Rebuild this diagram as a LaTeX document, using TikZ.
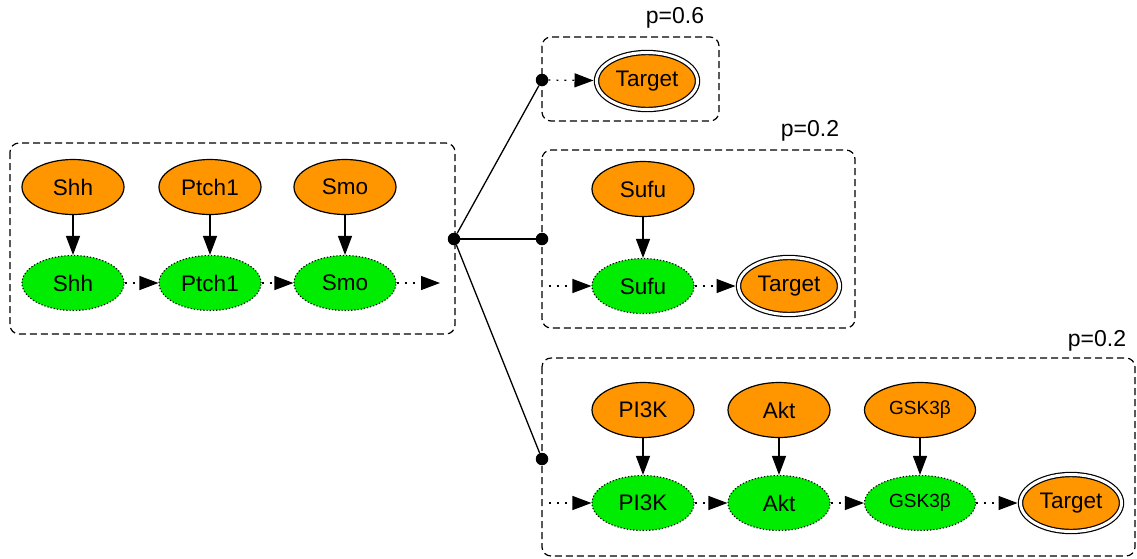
\documentclass[tikz,border=0pt]{standalone}
\usepackage{fontspec}
\setmainfont{Liberation Sans}
\usetikzlibrary{shapes.geometric,arrows.meta}
\definecolor{gorange}{RGB}{255,150,0}
\definecolor{ggreen}{RGB}{0,236,0}
\tikzset{
  gene/.style={ellipse, draw, line width=1.2pt, fill=gorange, minimum width=102pt,
    minimum height=55pt, inner sep=0pt, font=\fontsize{22.5}{25}\selectfont},
  act/.style={ellipse, draw, line width=1.1pt, dash pattern=on 1.2pt off 2pt, fill=ggreen,
    minimum width=102pt, minimum height=55pt, inner sep=0pt, font=\fontsize{22.5}{25}\selectfont},
  target/.style={ellipse, draw, line width=1.2pt, double, double distance=3pt, fill=gorange,
    minimum width=101pt, minimum height=57pt, inner sep=0pt, outer sep=3pt,
    font=\fontsize{22.5}{25}\selectfont},
  small/.style={font=\fontsize{19}{21}\selectfont, minimum width=111pt},
  junction/.style={circle, fill=black, inner sep=0pt, minimum size=12.5pt},
  group/.style={draw, line width=1.2pt, dash pattern=on 7pt off 4pt, rounded corners=9pt},
  link/.style={-{Triangle[length=19pt,width=14pt]}, line width=1.2pt},
  flow/.style={link, dash pattern=on 2pt off 6pt},
  branch/.style={line width=1.3pt},
  prob/.style={font=\fontsize{23}{25}\selectfont, inner sep=0pt}
}
\begin{document}
\begin{tikzpicture}[x=1pt, y=-1pt]
\useasboundingbox (0,0) rectangle (1137,558);

% Hedgehog pathway
\draw[group] (10,143) rectangle (455,334);
\node[gene] (shh)  at (73,187)  {Shh};
\node[gene] (ptc)  at (210,187) {Ptch1};
\node[gene] (smo)  at (345,187) {Smo};
\node[act]  (shhA) at (73,283)  {Shh};
\node[act]  (ptcA) at (210,283) {Ptch1};
\node[act]  (smoA) at (345,283) {Smo};
\coordinate (out0) at (440,283);
\draw[link] (shh) -- (shhA);
\draw[link] (ptc) -- (ptcA);
\draw[link] (smo) -- (smoA);
\draw[flow] (shhA) -- (ptcA);
\draw[flow] (ptcA) -- (smoA);
\draw[flow] (smoA) -- (out0);

% branching point
\node[junction] (hub) at (454,239) {};
\node[junction] (j1) at (542,80) {};
\node[junction] (j2) at (542,239) {};
\node[junction] (j3) at (542,459) {};
\draw[branch] (hub) -- (j1);
\draw[branch] (hub) -- (j2);
\draw[branch] (hub) -- (j3);

% branch 1
\draw[group] (542,37) rectangle (719,121);
\node[prob] (p1) at (675,18) {p=0.6};
\node[target] (t1) at (647,81) {Target};
\draw[flow] (j1) -- (t1);

% branch 2
\draw[group] (542,150) rectangle (855,328);
\node[prob] (p2) at (810,131) {p=0.2};
\node[gene] (sufu)  at (643,189) {Sufu};
\node[act]  (sufuA) at (643,286) {Sufu};
\node[target] (t2) at (789,286) {Target};
\coordinate (in2) at (549,286);
\draw[link] (sufu) -- (sufuA);
\draw[flow] (in2) -- (sufuA);
\draw[flow] (sufuA) -- (t2);

% branch 3
\draw[group] (542,358) rectangle (1135,556);
\node[prob] (p3) at (1097,341) {p=0.2};
\node[gene] (pik)  at (643,410) {PI3K};
\node[gene] (akt)  at (779,410) {Akt};
\node[gene, small] (gsk) at (920,410) {GSK3β};
\node[act]  (pikA) at (643,503) {PI3K};
\node[act]  (aktA) at (779,503) {Akt};
\node[act, small] (gskA) at (920,503) {GSK3β};
\node[target] (t3) at (1071,503) {Target};
\coordinate (in3) at (549,503);
\draw[link] (pik) -- (pikA);
\draw[link] (akt) -- (aktA);
\draw[link] (gsk) -- (gskA);
\draw[flow] (in3) -- (pikA);
\draw[flow] (pikA) -- (aktA);
\draw[flow] (aktA) -- (gskA);
\draw[flow] (gskA) -- (t3);
\end{tikzpicture}
\end{document}
